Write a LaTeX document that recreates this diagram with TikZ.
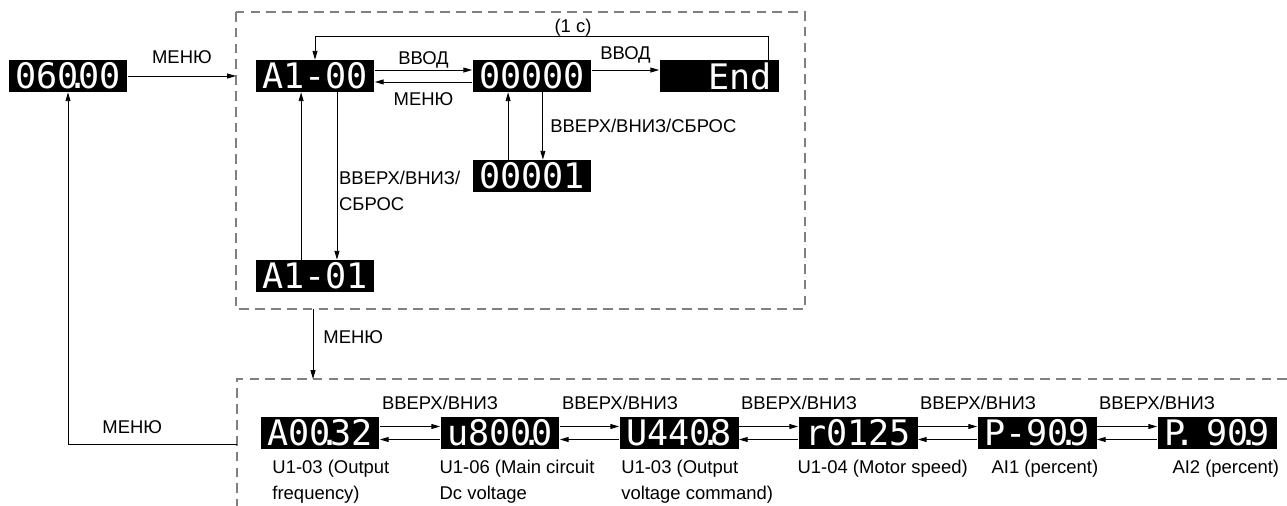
\documentclass[tikz,border=0pt]{standalone}
\usepackage{fontspec}
\setmainfont{Liberation Sans}
\newfontfamily\segfont{DejaVu Sans Mono}
\usetikzlibrary{arrows.meta}

\newcommand{\segdot}{\makebox[0pt]{.}}

\tikzset{
    disp/.style={fill=black, text=white, minimum width=2.38cm, minimum height=0.64cm, inner sep=0pt, font=\segfont\fontsize{20}{20}\selectfont},
    lbl/.style={font=\fontsize{10.5}{14.7}\selectfont, inner sep=1pt},
    arr/.style={-{Triangle[length=5pt, width=2.8pt]}, line width=0.5pt},
    frame/.style={gray, dash pattern=on 5.5pt off 3.5pt, line width=0.6pt},
}

\begin{document}
\begin{tikzpicture}[x=0.02cm, y=-0.02cm]
    \useasboundingbox (0,0) rectangle (1287,506);

    % Draw frames
    \draw[frame] (236,12) rectangle (805,309);
    \draw[frame] (1287,379) -- (237,379) -- (237,506);

    % Draw nodes
    \node[disp] (m0) at (68,76) {060\segdot00};
    \node[disp] (a0) at (315,76) {A1-00};
    \node[disp] (v0) at (532,76) {00000};
    \node[disp] (e0) at (719,76) {\phantom{00}End};
    \node[disp] (v1) at (532,176) {00001};
    \node[disp] (a1) at (315,276) {A1-01};

    \node[disp] (u3) at (320,433) {A00\segdot32};
    \node[disp] (u6) at (500,433) {u800\segdot0};
    \node[disp] (u3b) at (679,433) {U440\segdot8};
    \node[disp] (u4) at (858,433) {r0125};
    \node[disp] (ai1) at (1037,433) {P-90\segdot9};
    \node[disp] (ai2) at (1217,433) {P\segdot\phantom{0}90\segdot9};

    % Frame points
    \coordinate (f1) at (236,76);
    \coordinate (f2) at (313,309);
    \coordinate (f3) at (313,379);
    \coordinate (f4) at (237,444);

    % Draw connections
    \draw[arr] (m0.east) -- (f1) node[lbl, midway, above=6pt] {МЕНЮ};
    \draw[arr] ([yshift=3.4pt]a0.east) -- ([yshift=3.4pt]v0.west) node[lbl, midway, above] {ВВОД};
    \draw[arr] ([yshift=-3.4pt]v0.west) -- ([yshift=-3.4pt]a0.east) node[lbl, midway, below=5pt] {МЕНЮ};
    \draw[arr] ([yshift=3.4pt]v0.east) -- ([yshift=3.4pt]e0.west) node[lbl, midway, above=2.4pt] {ВВОД};
    \draw[arr] ([xshift=28.3pt]e0.north) -- ++(0,-23) -| (a0.north);
    \draw[arr] ([xshift=-13.6pt]v1.north) -- ([xshift=-13.6pt]v0.south);
    \draw[arr] ([xshift=6.2pt]v0.south) -- ([xshift=6.2pt]v1.north) node[lbl, midway, right=3pt] {ВВЕРХ/ВНИЗ/СБРОС};
    \draw[arr] ([xshift=-7.9pt]a1.north) -- ([xshift=-7.9pt]a0.south);
    \draw[arr] ([xshift=12.5pt]a0.south) -- ([xshift=12.5pt]a1.north) node[lbl, pos=0.59, right=0pt, align=left] {ВВЕРХ/ВНИЗ/\\СБРОС};
    \draw[arr] (f2) -- (f3) node[lbl, pos=0.4, right=4.7pt] {МЕНЮ};
    \draw[arr] (f4) -| (m0.south) node[lbl, pos=0.31, above=4.4pt] {МЕНЮ};

    \draw[arr] ([yshift=3.7pt]u3.east) -- ([yshift=3.7pt]u6.west) node[lbl, pos=0, anchor=south west, yshift=8.6pt] {ВВЕРХ/ВНИЗ};
    \draw[arr] ([yshift=-3.7pt]u6.west) -- ([yshift=-3.7pt]u3.east);
    \draw[arr] ([yshift=3.7pt]u6.east) -- ([yshift=3.7pt]u3b.west) node[lbl, pos=0, anchor=south west, yshift=8.6pt] {ВВЕРХ/ВНИЗ};
    \draw[arr] ([yshift=-3.7pt]u3b.west) -- ([yshift=-3.7pt]u6.east);
    \draw[arr] ([yshift=3.7pt]u3b.east) -- ([yshift=3.7pt]u4.west) node[lbl, pos=0, anchor=south west, yshift=8.6pt] {ВВЕРХ/ВНИЗ};
    \draw[arr] ([yshift=-3.7pt]u4.west) -- ([yshift=-3.7pt]u3b.east);
    \draw[arr] ([yshift=3.7pt]u4.east) -- ([yshift=3.7pt]ai1.west) node[lbl, pos=0, anchor=south west, yshift=8.6pt] {ВВЕРХ/ВНИЗ};
    \draw[arr] ([yshift=-3.7pt]ai1.west) -- ([yshift=-3.7pt]u4.east);
    \draw[arr] ([yshift=3.7pt]ai1.east) -- ([yshift=3.7pt]ai2.west) node[lbl, pos=0, anchor=south west, yshift=8.6pt] {ВВЕРХ/ВНИЗ};
    \draw[arr] ([yshift=-3.7pt]ai2.west) -- ([yshift=-3.7pt]ai1.east);

    % Labels
    \node[lbl, above] (t1) at (573,38) {(1 c)};
    \node[lbl, anchor=north west, align=left, xshift=5.8pt, yshift=-4.9pt] (c1) at (u3.south west) {U1-03 (Output\\frequency)};
    \node[lbl, anchor=north west, align=left, xshift=-1.5pt, yshift=-4.9pt] (c2) at (u6.south west) {U1-06 (Main circuit\\Dc voltage};
    \node[lbl, anchor=north west, align=left, yshift=-4.9pt] (c3) at (u3b.south west) {U1-03 (Output\\voltage command)};
    \node[lbl, anchor=north west, xshift=-1.5pt, yshift=-4.9pt] (c4) at (u4.south west) {U1-04 (Motor speed)};
    \node[lbl, anchor=north west, xshift=7pt, yshift=-4.9pt] (c5) at (ai1.south west) {AI1 (percent)};
    \node[lbl, anchor=north east, xshift=2.5pt, yshift=-4.9pt] (c6) at (ai2.south east) {AI2 (percent)};
\end{tikzpicture}
\end{document}
